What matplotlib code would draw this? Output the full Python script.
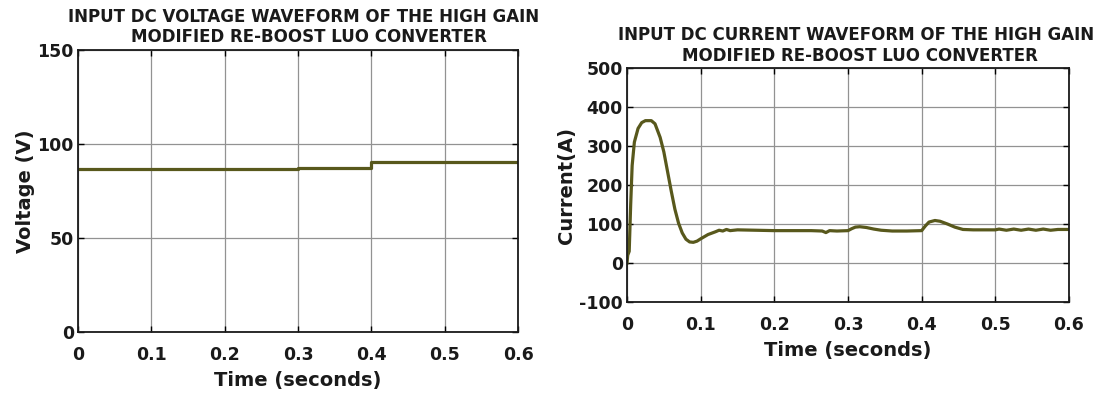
import matplotlib
matplotlib.use("Agg")
import matplotlib.pyplot as plt
import numpy as np

# ---- data ----
v_time = [0.0, 0.3, 0.3, 0.4, 0.4, 0.6]
v_vals = [86.7, 86.7, 87.5, 87.5, 90.5, 90.5]

i_time = [0.0, 0.001, 0.003, 0.005, 0.007, 0.010, 0.015, 0.020, 0.025, 0.033,
          0.038, 0.045, 0.050, 0.055, 0.060, 0.065, 0.070, 0.075, 0.080, 0.085,
          0.090, 0.095, 0.100, 0.110, 0.120, 0.125, 0.130, 0.135, 0.140, 0.150,
          0.200, 0.250, 0.265, 0.270, 0.275, 0.285, 0.300, 0.305, 0.310, 0.316,
          0.325, 0.335, 0.345, 0.360, 0.380, 0.400, 0.405, 0.410, 0.418, 0.425,
          0.435, 0.445, 0.456, 0.470, 0.500, 0.505, 0.515, 0.525, 0.535, 0.545,
          0.555, 0.565, 0.575, 0.585, 0.600]
i_vals = [0, 20, 30, 150, 250, 310, 345, 360, 365, 365,
          357, 322, 285, 235, 185, 138, 102, 77, 61, 54,
          53, 56, 62, 73, 80, 84, 82, 86, 83, 85,
          83, 83, 82, 78, 83, 82, 83, 88, 92, 93,
          91, 87, 84, 82, 82, 83, 95, 105, 109, 107,
          100, 92, 86, 85, 85, 87, 84, 87, 84, 87,
          84, 87, 84, 86, 86]

v_ticks = [0, 50, 100, 150]
i_ticks = [-100, 0, 100, 200, 300, 400, 500]
x_ticks = [0, 0.1, 0.2, 0.3, 0.4, 0.5, 0.6]
x_ticklabels = ["0", "0.1", "0.2", "0.3", "0.4", "0.5", "0.6"]

v_title = ["INPUT DC VOLTAGE WAVEFORM OF THE HIGH GAIN", "MODIFIED RE-BOOST LUO CONVERTER"]
i_title = ["INPUT DC CURRENT WAVEFORM OF THE HIGH GAIN", "MODIFIED RE-BOOST LUO CONVERTER"]

line_color = "#58581c"

plt.rcParams['font.family'] = ['DejaVu Sans']
plt.rcParams['axes.unicode_minus'] = False

W, H = 1102, 394
fig = plt.figure(figsize=(W / 100, H / 100), dpi=100)

ax1 = fig.add_axes([78/W, 62/H, 440/W, 282/H])
ax2 = fig.add_axes([627/W, 92/H, 442/W, 234/H])

def style(ax, yticks, ylim, ylabel, title, pos1, pos2):
    ax.set_xlim(0, 0.6)
    ax.set_ylim(*ylim)
    ax.set_xticks(x_ticks)
    ax.set_xticklabels(x_ticklabels)
    ax.set_yticks(yticks)
    ax.grid(True, color="#929292", linewidth=0.9)
    ax.set_axisbelow(True)
    for s in ax.spines.values():
        s.set_linewidth(1.3)
        s.set_color("#1a1a1a")
    ax.tick_params(direction="in", length=4, width=1, labelsize=12.5,
                   top=True, right=True)
    ax.tick_params(axis="x", pad=10)
    ax.tick_params(axis="y", pad=3)
    for lab in ax.get_xticklabels() + ax.get_yticklabels():
        lab.set_fontweight("bold")
        lab.set_color("#1a1a1a")
    ax.set_xlabel("Time (seconds)", fontsize=14, fontweight="bold", color="#1a1a1a", labelpad=5)
    ax.set_ylabel(ylabel, fontsize=14, fontweight="bold", color="#1a1a1a", labelpad=2)
    for txt, (px, py) in zip(title, (pos1, pos2)):
        fig.text(px / W, 1 - py / H, txt, fontsize=12, fontweight="bold",
                 color="#1a1a1a", ha="center", va="center")

ax1.plot(v_time, v_vals, color=line_color, linewidth=2.3)
style(ax1, v_ticks, (0, 150), "Voltage (V)", v_title, (304, 17), (309, 37))

ax2.plot(i_time, i_vals, color=line_color, linewidth=2.3)
style(ax2, i_ticks, (-100, 500), "Current(A)", i_title, (856, 35), (860, 56))

fig.savefig("out.png", dpi=100)
